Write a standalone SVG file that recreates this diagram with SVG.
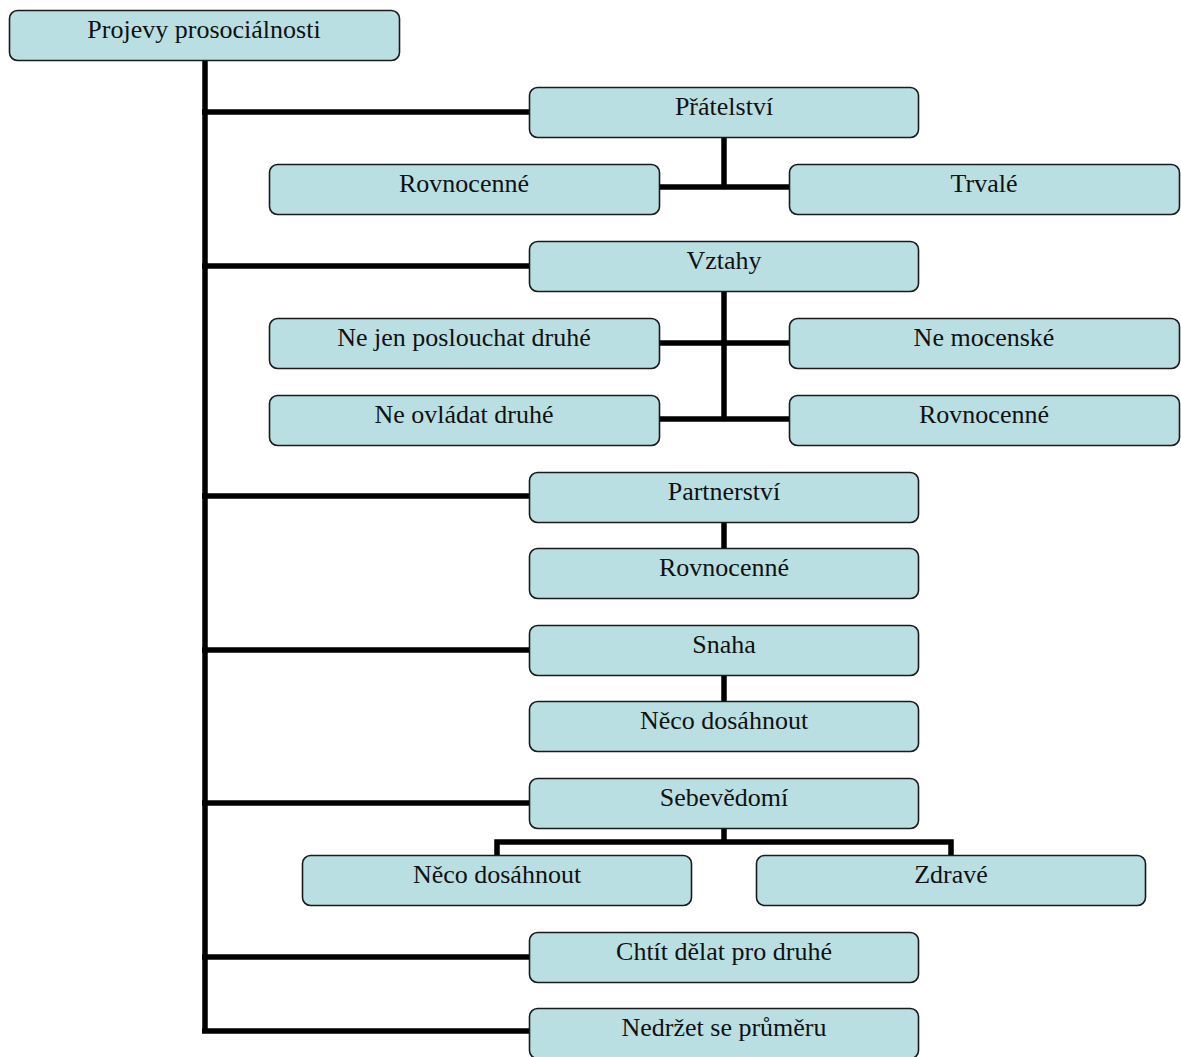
<svg xmlns="http://www.w3.org/2000/svg" width="1181" height="1057" viewBox="0 0 1181 1057">
<style>
.box{fill:#b9dfe2;stroke:#1a1a1a;stroke-width:1.6}
.lbl{font-family:"Liberation Serif","Times New Roman",serif;font-size:26px;fill:#111;text-anchor:middle}
.wire{fill:none;stroke:#000;stroke-width:5.5;stroke-linecap:butt;stroke-linejoin:miter}
</style>
<rect width="1181" height="1057" fill="#fff"/>
<g id="connectors">
<path class="wire" d="M205 60V1031"/>
<path class="wire" d="M202 112H529M202 266H529M202 496H529M202 650H529M202 803H529M202 957H529M202 1031H529"/>
<path class="wire" d="M724 137V189M659 187H789"/>
<path class="wire" d="M724 291V419M659 343H789M659 419H789"/>
<path class="wire" d="M724 522V548"/>
<path class="wire" d="M724 675V701"/>
<path class="wire" d="M724 828V842M497 855V842H951V855"/>
</g>
<g id="n-root"><rect class="box" x="9.5" y="10.5" width="390" height="50" rx="8"/><text class="lbl" x="204" y="38">Projevy prosociálnosti</text></g>
<g id="n-pratelstvi"><rect class="box" x="529.5" y="87.5" width="389" height="50" rx="8"/><text class="lbl" x="724" y="115">Přátelství</text></g>
<g id="n-rovnocenne1"><rect class="box" x="269.5" y="164.5" width="390" height="50" rx="8"/><text class="lbl" x="464" y="192">Rovnocenné</text></g>
<g id="n-trvale"><rect class="box" x="789.5" y="164.5" width="390" height="50" rx="8"/><text class="lbl" x="984" y="192">Trvalé</text></g>
<g id="n-vztahy"><rect class="box" x="529.5" y="241.5" width="389" height="50" rx="8"/><text class="lbl" x="724" y="269">Vztahy</text></g>
<g id="n-nejen"><rect class="box" x="269.5" y="318.5" width="390" height="50" rx="8"/><text class="lbl" x="464" y="346">Ne jen poslouchat druhé</text></g>
<g id="n-nemocenske"><rect class="box" x="789.5" y="318.5" width="390" height="50" rx="8"/><text class="lbl" x="984" y="346">Ne mocenské</text></g>
<g id="n-neovladat"><rect class="box" x="269.5" y="395.5" width="390" height="50" rx="8"/><text class="lbl" x="464" y="423">Ne ovládat druhé</text></g>
<g id="n-rovnocenne2"><rect class="box" x="789.5" y="395.5" width="390" height="50" rx="8"/><text class="lbl" x="984" y="423">Rovnocenné</text></g>
<g id="n-partnerstvi"><rect class="box" x="529.5" y="472.5" width="389" height="50" rx="8"/><text class="lbl" x="724" y="500">Partnerství</text></g>
<g id="n-rovnocenne3"><rect class="box" x="529.5" y="548.5" width="389" height="50" rx="8"/><text class="lbl" x="724" y="576">Rovnocenné</text></g>
<g id="n-snaha"><rect class="box" x="529.5" y="625.5" width="389" height="50" rx="8"/><text class="lbl" x="724" y="653">Snaha</text></g>
<g id="n-neco1"><rect class="box" x="529.5" y="701.5" width="389" height="50" rx="8"/><text class="lbl" x="724" y="729">Něco dosáhnout</text></g>
<g id="n-sebevedomi"><rect class="box" x="529.5" y="778.5" width="389" height="50" rx="8"/><text class="lbl" x="724" y="806">Sebevědomí</text></g>
<g id="n-neco2"><rect class="box" x="302.5" y="855.5" width="389" height="50" rx="8"/><text class="lbl" x="497" y="883">Něco dosáhnout</text></g>
<g id="n-zdrave"><rect class="box" x="756.5" y="855.5" width="389" height="50" rx="8"/><text class="lbl" x="951" y="883">Zdravé</text></g>
<g id="n-chtit"><rect class="box" x="529.5" y="932.5" width="389" height="50" rx="8"/><text class="lbl" x="724" y="960">Chtít dělat pro druhé</text></g>
<g id="n-nedrzet"><rect class="box" x="529.5" y="1008.5" width="389" height="50" rx="8"/><text class="lbl" x="724" y="1036">Nedržet se průměru</text></g>
</svg>
